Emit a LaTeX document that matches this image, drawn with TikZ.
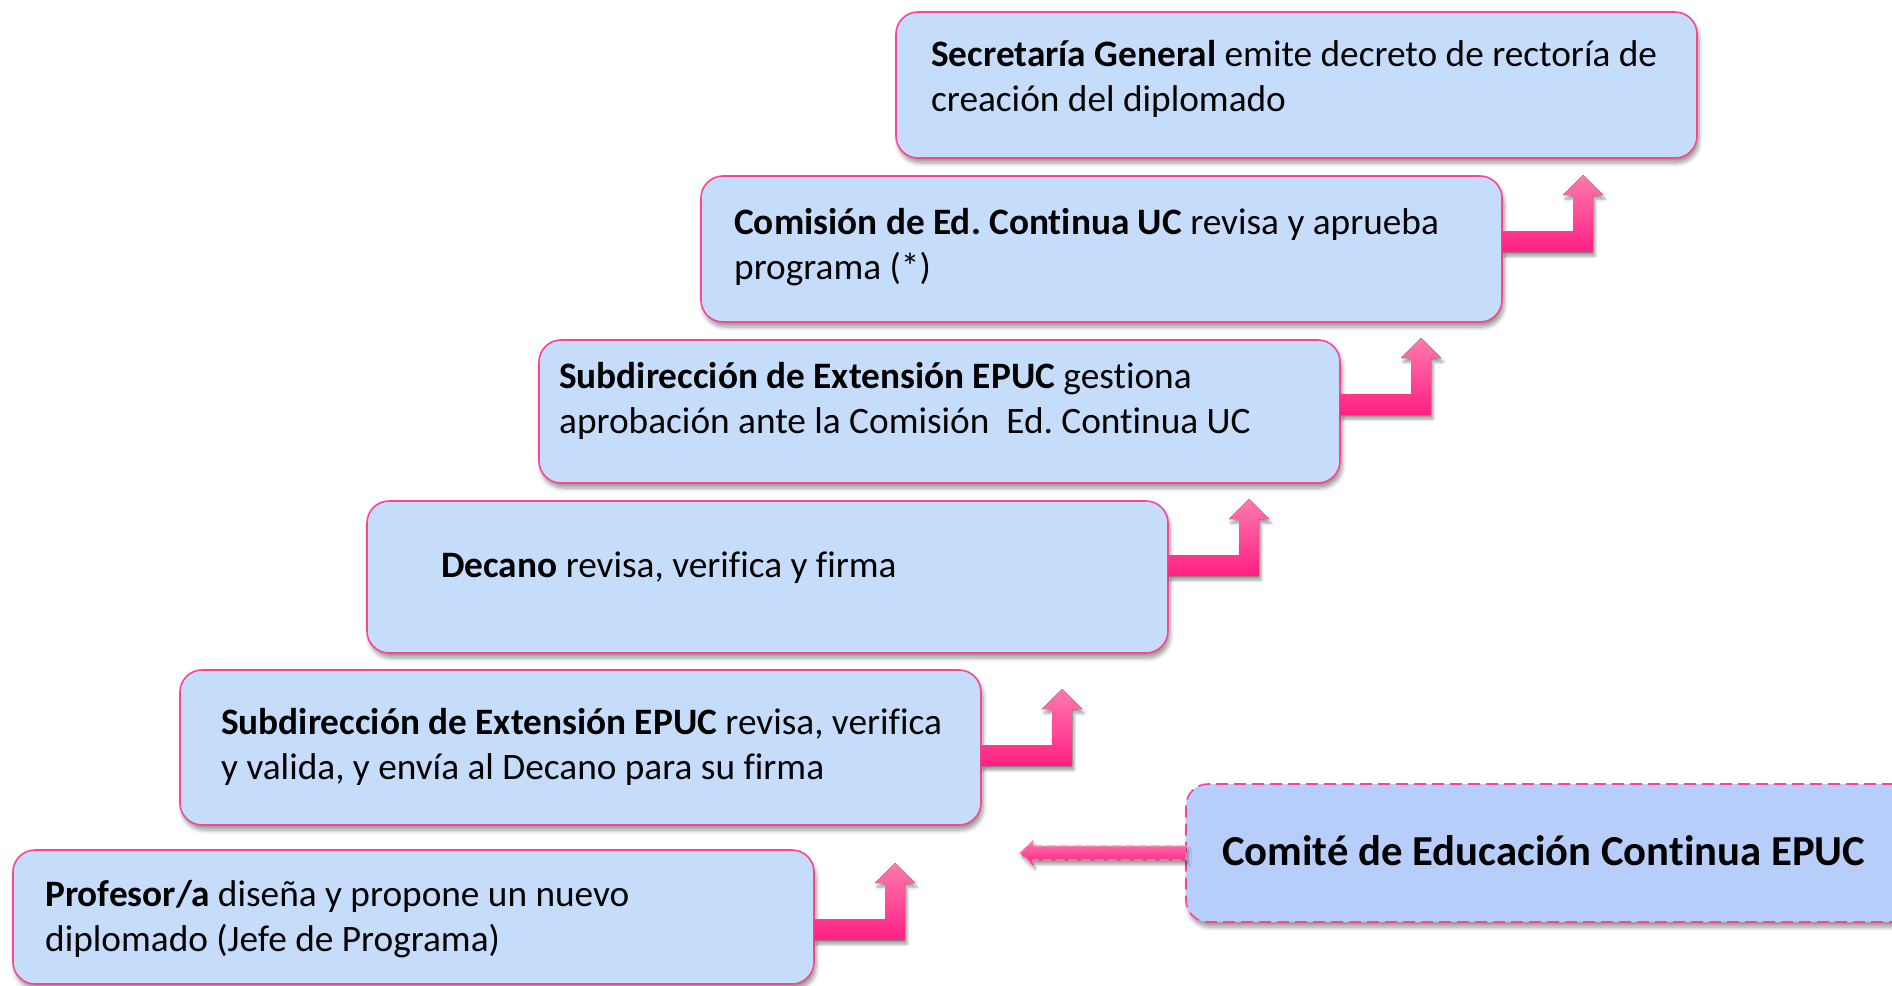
\documentclass[tikz,border=0pt]{standalone}
\usepackage{fontspec}
\setmainfont{Carlito}[Ligatures=NoCommon]
\usetikzlibrary{shadows,shadows.blur}
\frenchspacing
\definecolor{boxfill}{HTML}{C5DDFB}
\definecolor{comfill}{HTML}{B8CEFA}
\definecolor{pinkline}{HTML}{F8468F}
\definecolor{arrtop}{HTML}{FF7AAF}
\definecolor{arrbot}{HTML}{FF1F82}
\newcommand{\bentarr}[2]{%
  \begin{scope}[shift={(#1.north east)}]
    \fill[bentstyle] (0,#2+56) -- (71,#2+56) -- (71,#2+20) -- (61,#2+20) -- (81,#2)
      -- (101,#2+20) -- (91,#2+20) -- (91,#2+77) -- (0,#2+77) -- cycle;
  \end{scope}}
\tikzset{
  stepbox/.style={draw=pinkline, line width=1.6pt, fill=boxfill, rounded corners=22pt,
    anchor=north west, inner sep=0pt, outer sep=0pt, minimum width=801pt,
    blur shadow={shadow xshift=2pt, shadow yshift=-5pt, shadow blur steps=6, shadow blur radius=4pt}},
  combox/.style={stepbox, draw=pinkline, dash pattern=on 12pt off 6pt, fill=comfill},
  txt/.style={anchor=base west, inner sep=0pt, font=\fontsize{37.3}{45}\selectfont},
  bentstyle/.style={top color=arrtop, bottom color=arrbot, draw=none,
    blur shadow={shadow xshift=2pt, shadow yshift=-4pt, shadow blur steps=5, shadow blur radius=3pt}},
}
\begin{document}
\begin{tikzpicture}[x=1pt,y=-1pt]
\useasboundingbox (0,0) rectangle (1892,985);
% boxes
\node[stepbox, minimum height=146pt] (A) at (896,12) {};
\node[stepbox, minimum height=146pt] (B) at (701,176) {};
\node[stepbox, minimum height=143pt] (C) at (539,340) {};
\node[stepbox, minimum height=152pt] (D) at (367,501) {};
\node[stepbox, minimum height=155pt] (E) at (180,670) {};
\node[stepbox, minimum height=134pt] (F) at (13,850) {};
\node[combox, minimum width=730pt, minimum height=138pt] (G) at (1186,784) {};
% texts
\node[txt] (tA) at (931,66) {\parbox[t]{780pt}{\textbf{Secretaría General} emite decreto de rectoría de\\creación del diplomado}};
\node[txt] (tB) at (734,234) {\parbox[t]{780pt}{\textbf{Comisión de Ed. Continua UC} revisa y aprueba\\programa (*)}};
\node[txt] (tC) at (559,388) {\parbox[t]{780pt}{\textbf{Subdirección de Extensión EPUC} gestiona\\aprobación ante la Comisión\ \ Ed. Continua UC}};
\node[txt] (tD) at (441,577) {\textbf{Decano} revisa, verifica y firma};
\node[txt] (tE) at (221,734) {\parbox[t]{780pt}{\textbf{Subdirección de Extensión EPUC} revisa, verifica\\y valida, y envía al Decano para su firma}};
\node[txt] (tF) at (45,906) {\parbox[t]{780pt}{\textbf{Profesor/a} diseña y propone un nuevo\\diplomado (Jefe de Programa)}};
\node[anchor=base west, inner sep=0pt, font=\fontsize{42.7}{48}\selectfont\bfseries] (tG) at (1222,865) {Comité de Educación Continua EPUC};
% bent arrows
\bentarr{B}{-1}
\bentarr{C}{-2}
\bentarr{D}{-2}
\bentarr{E}{19}
\bentarr{F}{13}
% dashed arrow
\begin{scope}[shift={(G.west)}]
  \filldraw[top color=arrtop, bottom color=arrbot, draw=pinkline!60!white, line width=1.2pt,
    dash pattern=on 9pt off 4pt,
    blur shadow={shadow xshift=2pt, shadow yshift=-4pt, shadow blur steps=4, shadow blur radius=3pt}]
    (0,-7) -- (-153,-7) -- (-153,-12) -- (-166,0) -- (-153,12) -- (-153,7) -- (0,7) -- cycle;
\end{scope}
\end{tikzpicture}
\end{document}
